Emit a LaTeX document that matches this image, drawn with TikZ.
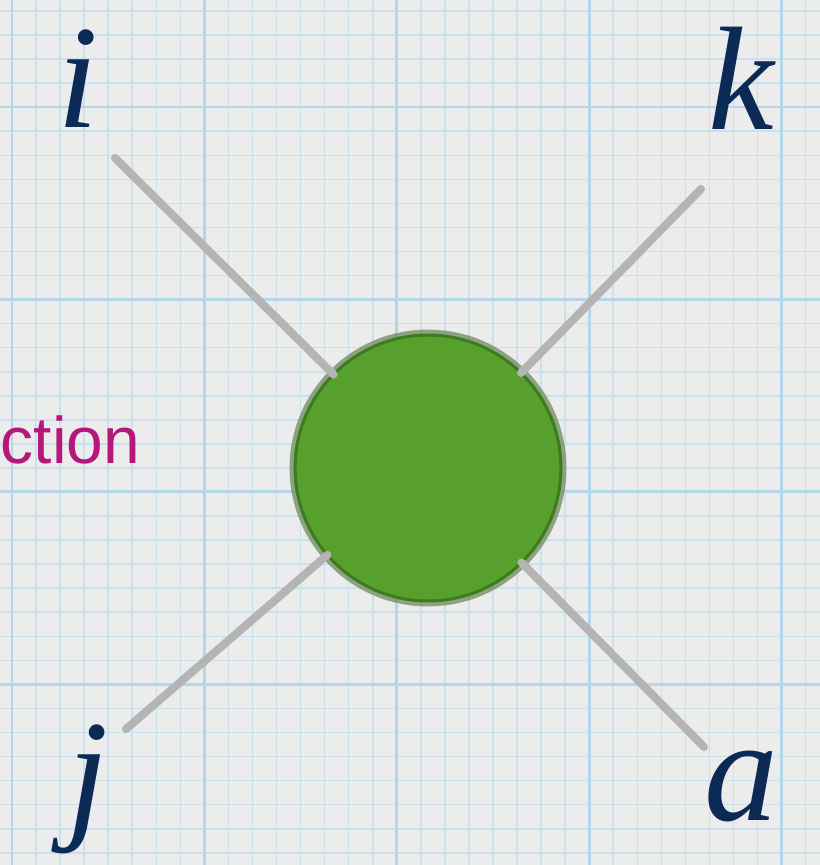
\documentclass[tikz,border=0pt]{standalone}
\usepackage{fontspec}
\setmainfont{Liberation Serif}
\newfontfamily\captionsans{Liberation Sans}

\definecolor{paper}{HTML}{ECECEC}
\definecolor{gridfine}{HTML}{C9E1EC}
\definecolor{gridmajor}{HTML}{B3D7E8}
\definecolor{leaf}{HTML}{58A02E}
\definecolor{leafdark}{HTML}{3E7A1E}
\definecolor{leafring}{HTML}{6E8A5E}
\definecolor{chalk}{HTML}{B4B4B4}
\definecolor{ink}{HTML}{0B2A55}
\definecolor{berry}{HTML}{B5177A}

\begin{document}
\begin{tikzpicture}[
    x=0.02cm, y=-0.02cm,
    every node/.style={inner sep=0pt, outer sep=0pt},
    vertex/.style={circle, minimum size=5.32cm, fill=leaf, draw=leafdark, line width=1.7pt,
        preaction={draw=leafring, draw opacity=0.75, line width=6.2pt}},
    leg/.style={draw=chalk, line width=4.6pt, line cap=round},
    index/.style={text=ink, font=\fontsize{84}{84}\selectfont\itshape, anchor=base},
    tag/.style={text=berry, font=\captionsans\fontsize{37.5}{37.5}\selectfont, anchor=base east}
]
\useasboundingbox (0,0) rectangle (820,865);

% Graph paper
\fill[paper] (0,0) rectangle (820,865);
\foreach \k in {0,...,34} {
    \draw[gridfine, line width=0.9pt] (12+24.05*\k,0) -- (12+24.05*\k,865);
}
\foreach \k in {0,...,35} {
    \draw[gridfine, line width=0.9pt] (0,11+24.05*\k) -- (820,11+24.05*\k);
}
\foreach \k in {0,...,4} {
    \draw[gridmajor, line width=1.5pt] (12+192.4*\k,0) -- (12+192.4*\k,865);
}
\foreach \k in {0,...,3} {
    \draw[gridmajor, line width=1.5pt] (0,107+192.4*\k) -- (820,107+192.4*\k);
}

% Vertex
\node[vertex] (V) at (428,468) {};

% Free ends of the legs
\coordinate (Ei) at (115,158);
\coordinate (Ek) at (701,189);
\coordinate (Ej) at (126,729);
\coordinate (Ea) at (704,747);

% Legs
\foreach \e in {Ei,Ek,Ej,Ea} {
    \draw[leg] (V) -- (\e);
}

% Index labels
\node[index] (Li) at (78,128) {i};
\node[index] (Lk) at (741,130) {k};
\node[index] (Lj) at (88,822) {j};
\node[index] (La) at (741,820) {a};

% Cut-off caption
\node[tag] (C) at (140,463) {ction};

\end{tikzpicture}
\end{document}
